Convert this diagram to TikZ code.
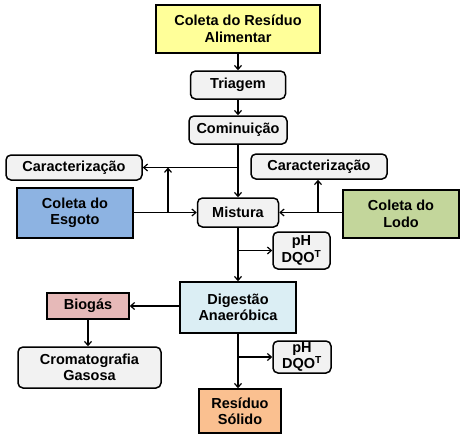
\documentclass[tikz,border=0pt]{standalone}
\usepackage{fontspec}
\setmainfont{Liberation Sans}
\usetikzlibrary{arrows.meta}

\definecolor{yellowbox}{HTML}{FFFF99}
\definecolor{bluebox}{HTML}{8DB3E2}
\definecolor{greenbox}{HTML}{C3D69B}
\definecolor{cyanbox}{HTML}{DBEEF4}
\definecolor{pinkbox}{HTML}{E6B9B8}
\definecolor{orangebox}{HTML}{FAC090}
\definecolor{graybox}{HTML}{F2F2F2}

\begin{document}
\begin{tikzpicture}[x = 1pt, y = -1pt, > = {Straight Barb[length = 4pt, width = 7pt]},
	font = \bfseries\fontsize{14.5}{16.5}\selectfont,
	box/.style = {draw, line width = 1.5pt, align = center, inner sep = 0pt},
	rbox/.style = {box, rounded corners = 5pt, fill = graybox},
	link/.style = {->, line width = 1.2pt}]

	% Definition
	
	\def\mx{238}		% Main column
	
	\useasboundingbox (0, 0) rectangle (467, 445);
	
	% Main column
	
	\node [box, fill = yellowbox, minimum width = 164pt, minimum height = 48pt] (coleta) at (\mx, 29) {Coleta do Resíduo\\Alimentar};
	\node [rbox, minimum width = 95pt, minimum height = 28pt] (triagem) at (\mx, 85) {Triagem};
	\node [rbox, minimum width = 98pt, minimum height = 28pt] (cominuicao) at (\mx, 130) {Cominuição};
	\node [rbox, minimum width = 81pt, minimum height = 29pt] (mistura) at (\mx, 212.5) {Mistura};
	\node [box, fill = cyanbox, minimum width = 116pt, minimum height = 51pt] (digestao) at (\mx, 307.5) {Digestão\\Anaeróbica};
	\node [box, fill = orangebox, minimum width = 82pt, minimum height = 44pt] (residuo) at (\mx + 2, 411) {Resíduo\\Sólido};
	
	% Side boxes
	
	\node [rbox, minimum width = 136pt, minimum height = 25pt] (caracL) at (74, 167.5) {Caracterização};
	\node [rbox, minimum width = 136pt, minimum height = 25pt] (caracR) at (319, 166.5) {Caracterização};
	\node [box, fill = bluebox, minimum width = 116pt, minimum height = 50pt] (esgoto) at (75, 213) {Coleta do\\Esgoto};
	\node [box, fill = greenbox, minimum width = 116pt, minimum height = 48pt] (lodo) at (401, 214) {Coleta do\\Lodo};
	\node [rbox, minimum width = 57pt, minimum height = 37pt] (phA) at (301.5, 250.5) {pH\\DQO\textsuperscript{T}};
	\node [box, fill = pinkbox, minimum width = 82pt, minimum height = 26pt] (biogas) at (88, 306) {Biogás};
	\node [rbox, minimum width = 143pt, minimum height = 41pt] (croma) at (89.5, 367.5) {Cromatografia\\Gasosa};
	\node [rbox, minimum width = 58pt, minimum height = 32pt] (phB) at (302, 357) {pH\\DQO\textsuperscript{T}};
	
	% Junctions
	
	\coordinate (eJ) at (168, 212.5);
	\coordinate (lJ) at (318, 212.5);
	\coordinate (mJ) at (\mx, 250.5);
	\coordinate (dJ) at (\mx, 357);
	
	% Connectors
	
	\draw [link] (coleta) -- (triagem);
	\draw [link] (triagem) -- (cominuicao);
	\draw [link] (cominuicao) -- (mistura);
	\draw [link] (cominuicao.south |- caracL.east) -- (caracL.east);
	\draw [link] (esgoto.east |- mistura) -- (mistura);
	\draw [link] (eJ) -- (eJ |- caracL.east);
	\draw [link] (lodo.west |- mistura) -- (mistura);
	\draw [link] (lJ) -- (lJ |- caracR.south);
	\draw [link] (mistura) -- (digestao);
	\draw [link] (mJ) -- (phA);
	\draw [link] (digestao.west |- biogas) -- (biogas);
	\draw [link] (biogas) -- (biogas |- croma.north);
	\draw [link] (digestao.south) -- (digestao.south |- residuo.north);
	\draw [link] (dJ) -- (phB);

\end{tikzpicture}
\end{document}
